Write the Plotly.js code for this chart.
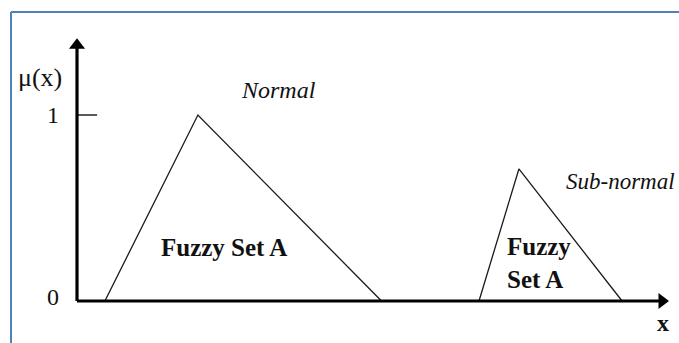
<!DOCTYPE html>
<html>
<head>
<meta charset="utf-8">
<script src="https://cdn.plot.ly/plotly-3.0.1.min.js"></script>
<style>
  html, body { margin: 0; padding: 0; background: #fff; }
  #chart { width: 679px; height: 343px; }
</style>
</head>
<body>
<div id="chart"></div>
<script>
// Fuzzy set membership triangles (x in arbitrary units, y = membership degree)
const normalX = [0.93, 4.03, 10.15];
const normalY = [0, 1, 0];
const subNormalX = [13.4, 14.73, 18.17];
const subNormalY = [0, 0.71, 0];

// Axes extents
const xAxisEnd = 19.5;
const yAxisEnd = 1.375;
const yTickLabels = ['0', '1'];
const yTickValues = [0, 1];

const serif = 'Liberation Serif, Times New Roman, serif';
const ink = '#111111';

const traces = [
  { x: normalX, y: normalY, mode: 'lines', line: { color: '#1a1a1a', width: 1.3 }, hoverinfo: 'skip' },
  { x: subNormalX, y: subNormalY, mode: 'lines', line: { color: '#1a1a1a', width: 1.3 }, hoverinfo: 'skip' },
  // x axis
  { x: [0, xAxisEnd], y: [0, 0], mode: 'lines', line: { color: '#000', width: 3.2 }, hoverinfo: 'skip' },
  { x: [xAxisEnd], y: [0], mode: 'markers', marker: { symbol: 'triangle-right', size: 14, color: '#000' }, hoverinfo: 'skip' },
  // y axis
  { x: [0, 0], y: [0, yAxisEnd], mode: 'lines', line: { color: '#000', width: 3.2 }, hoverinfo: 'skip' },
  { x: [0], y: [yAxisEnd], mode: 'markers', marker: { symbol: 'triangle-up', size: 14, color: '#000' }, hoverinfo: 'skip' },
  // tick at 1
  { x: [0, 0.67], y: [1, 1], mode: 'lines', line: { color: '#000', width: 1.3 }, hoverinfo: 'skip' }
];

const annotations = [
  { x: -1.23, y: 1.204, text: 'μ(x)', font: { size: 26 } },
  { x: 19.53, y: -0.118, text: '<b>x</b>', font: { size: 24 } },
  { x: 6.7, y: 1.134, text: '<i>Normal</i>', font: { size: 24 } },
  { x: 16.22, y: 0.64, text: '<i>Sub-normal</i>', xanchor: 'left', font: { size: 23 } },
  { x: 4.9, y: 0.285, text: '<b>Fuzzy Set A</b>', font: { size: 25 } },
  { x: 14.27, y: 0.207, text: '<b>Fuzzy<br>Set A</b>', xanchor: 'left', align: 'left', font: { size: 25 } }
];
yTickValues.forEach((v, i) => {
  annotations.push({ x: -0.8, y: v === 0 ? 0.022 : v, text: yTickLabels[i], font: { size: 24 } });
});
annotations.forEach(a => {
  a.xref = 'x'; a.yref = 'y'; a.showarrow = false;
  a.font = Object.assign({ family: serif, color: ink }, a.font);
});

const layout = {
  width: 679, height: 343,
  margin: { l: 0, r: 0, t: 0, b: 0, pad: 0 },
  paper_bgcolor: '#fff', plot_bgcolor: '#fff',
  showlegend: false,
  xaxis: { range: [-77 / 30, 602 / 30], visible: false, fixedrange: true },
  yaxis: { range: [-42 / 186, 301 / 186], visible: false, fixedrange: true },
  annotations: annotations,
  shapes: [
    { type: 'line', xref: 'paper', yref: 'paper', x0: 11 / 679, x1: 1.01, y0: 1 - 12 / 343, y1: 1 - 12 / 343, line: { color: '#4f81bd', width: 2 } },
    { type: 'line', xref: 'paper', yref: 'paper', x0: 11 / 679, x1: 11 / 679, y0: 1 - 12 / 343, y1: -0.01, line: { color: '#4f81bd', width: 2 } }
  ]
};

Plotly.newPlot('chart', traces, layout, { staticPlot: true, displayModeBar: false });
</script>
</body>
</html>
